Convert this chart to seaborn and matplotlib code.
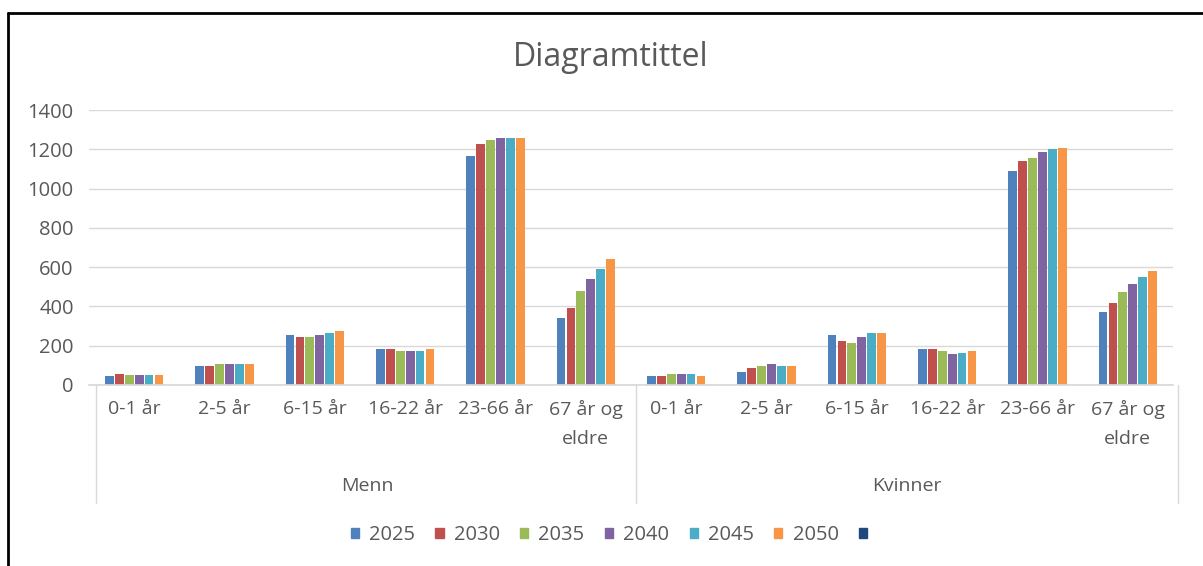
import numpy as np
import pandas as pd
import seaborn as sns
import matplotlib.pyplot as plt
from matplotlib.lines import Line2D
from matplotlib.patches import Patch

sns.set_theme(style="white")
plt.rcParams['font.family'] = ['Open Sans', 'DejaVu Sans']

# data
groups = ['Menn', 'Kvinner']
ages = ['0-1 år', '2-5 år', '6-15 år', '16-22 år', '23-66 år', '67 år og\neldre']
years = ['2025', '2030', '2035', '2040', '2045', '2050']

menn_2025 = [45, 97, 253, 185, 1168, 343]
menn_2030 = [55, 97, 243, 185, 1227, 393]
menn_2035 = [52, 105, 243, 175, 1248, 481]
menn_2040 = [52, 105, 253, 175, 1256, 541]
menn_2045 = [52, 105, 263, 175, 1256, 592]
menn_2050 = [52, 105, 274, 185, 1256, 639]

kvinner_2025 = [45, 65, 253, 185, 1088, 374]
kvinner_2030 = [45, 85, 224, 185, 1139, 415]
kvinner_2035 = [55, 95, 212, 175, 1158, 474]
kvinner_2040 = [55, 105, 243, 156, 1188, 513]
kvinner_2045 = [55, 95, 263, 165, 1202, 552]
kvinner_2050 = [45, 95, 263, 175, 1207, 581]

menn = [menn_2025, menn_2030, menn_2035, menn_2040, menn_2045, menn_2050]
kvinner = [kvinner_2025, kvinner_2030, kvinner_2035, kvinner_2040, kvinner_2045, kvinner_2050]

colors = ['#4F81BD', '#C0504D', '#9BBB59', '#8064A2', '#4BACC6', '#F79646']
extra_color = '#1F497D'
txt = '#595959'

rows = []
for g, series in zip(groups, [menn, kvinner]):
    for y, vals in zip(years, series):
        for a, v in zip(ages, vals):
            rows.append({'cat': g + '|' + a, 'year': y, 'value': v})
df = pd.DataFrame(rows)
order = [g + '|' + a for g in groups for a in ages]

W, H = 1203, 566
fig = plt.figure(figsize=(W / 100, H / 100), dpi=100)
x0, x1, ytop, ybot = 89, 1173, 110, 385
ax = fig.add_axes([x0 / W, 1 - ybot / H, (x1 - x0) / W, (ybot - ytop) / H])

sns.barplot(data=df, x='cat', y='value', hue='year', order=order, hue_order=years,
            palette=colors, saturation=1, width=0.66, gap=0.12, edgecolor='none',
            ax=ax, legend=False)

ax.set_ylim(0, 1400)
ax.set_yticks(range(0, 1401, 200))
ax.yaxis.grid(True, color='#d9d9d9', linewidth=1)
ax.set_axisbelow(True)
ax.set_xlabel('')
ax.set_ylabel('')
ax.set_xticks(range(len(order)))
ax.set_xticklabels(ages * 2, color=txt, fontsize=14, linespacing=1.75)
ax.tick_params(axis='x', length=0, pad=11)
ax.tick_params(axis='y', length=0, pad=11, labelsize=14.5, labelcolor=txt)
for s in ['top', 'right', 'left']:
    ax.spines[s].set_visible(False)
ax.spines['bottom'].set_color('#d9d9d9')

# group separators and group labels
for xp in [96, 636, 1178]:
    fig.add_artist(Line2D([xp / W, xp / W], [1 - ybot / H, 1 - 503 / H], color='#d9d9d9', lw=1))
fig.text(367 / W, 1 - 486 / H, 'Menn', ha='center', va='center', fontsize=14, color=txt)
fig.text(907 / W, 1 - 486 / H, 'Kvinner', ha='center', va='center', fontsize=14, color=txt)

fig.text(611 / W, 1 - 57 / H, 'Diagramtittel', ha='center', va='center', fontsize=23, color=txt)

handles = [Patch(color=c) for c in colors] + [Patch(color=extra_color)]
labels = years + ['']
fig.legend(handles, labels, loc='center', bbox_to_anchor=(614 / W, 1 - 535 / H), ncol=7,
           frameon=False, handlelength=0.4, handleheight=0.4, handletextpad=0.5,
           columnspacing=1.02, fontsize=14.5, labelcolor=txt)

# chart frame (left and top edges visible)
fig.add_artist(Line2D([8 / W, 8 / W], [0, 1 - 13 / H], color='black', lw=2))
fig.add_artist(Line2D([8 / W, 1], [1 - 13 / H, 1 - 13 / H], color='black', lw=2))

fig.savefig('out.png', dpi=100, facecolor='white')
